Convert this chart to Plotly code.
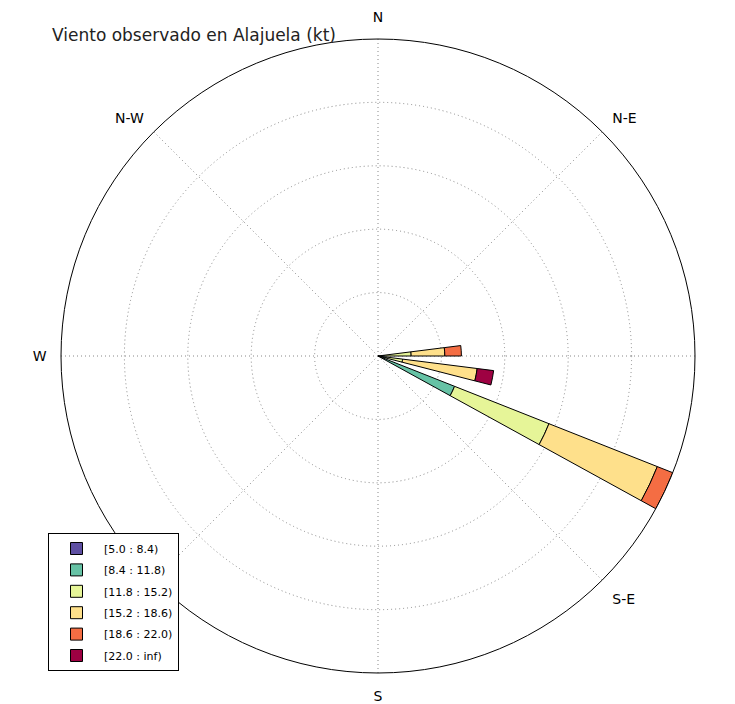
import plotly.graph_objects as go

# Directions (degrees, compass) of the sectors with data
directions = [86.4, 100.8, 115.2]
sector_width = 7.2

# Speed bins (kt) and their frequencies (%) per direction
bin_labels = ["[5.0 : 8.4)", "[8.4 : 11.8)", "[11.8 : 15.2)",
              "[15.2 : 18.6)", "[18.6 : 22.0)", "[22.0 : inf)"]
bin_colors = ["#5e4fa2", "#66c2a5", "#e6f598", "#fee08b", "#f46d43", "#9e0142"]

freq_5_8 = [0.0, 0.0, 0.0]
freq_8_11 = [1.2, 1.6, 15.9]
freq_11_15 = [5.2, 3.2, 19.6]
freq_15_18 = [6.5, 14.5, 22.5]
freq_18_22 = [3.2, 0.0, 3.2]
freq_22_inf = [0.0, 3.2, 0.0]
series = [freq_5_8, freq_8_11, freq_11_15, freq_15_18, freq_18_22, freq_22_inf]

# Compass labels (E falls outside the picture, S-W is hidden by the legend)
compass_vals = [0, 45, 90, 135, 180, 225, 270, 315]
compass_text = ["N", "N-E", "", "S-E", "S", "", "W", "N-W"]

title_text = "Viento observado en Alajuela (kt)"

totals = [sum(s[i] for s in series) for i in range(len(directions))]
rmax = max(totals)

fig = go.Figure()
for i, (lab, col, vals) in enumerate(zip(bin_labels, bin_colors, series)):
    fig.add_trace(go.Barpolar(
        r=vals, theta=directions, width=[sector_width] * len(directions),
        name=lab, legendgroup=f"g{i}",
        marker=dict(color=col, line=dict(color="black", width=1)),
    ))

OFF = 8  # page body margin
W, H = 727, 696
cx, cy, R = 378 - OFF, 356 - OFF, 317


def px(x):
    return x / W


def py(y):
    return 1 - y / H


fig.update_layout(
    width=W, height=H,
    margin=dict(l=0, r=0, t=0, b=0),
    paper_bgcolor="white",
    font=dict(family="DejaVu Sans", color="black"),
    title=dict(text=title_text, x=px(52 - OFF), xanchor="left", xref="paper",
               y=py(35 - OFF), yanchor="middle", yref="paper",
               font=dict(size=17, color="#222", family="DejaVu Sans")),
    polar=dict(
        domain=dict(x=[px(cx - R), px(cx + R)],
                    y=[py(cy + R), py(cy - R)]),
        bgcolor="white",
        barmode="stack",
        radialaxis=dict(range=[0, rmax], dtick=rmax / 5, showticklabels=False,
                        ticks="", showline=False, gridcolor="#888",
                        griddash="1px,3px", gridwidth=1),
        angularaxis=dict(rotation=90, direction="clockwise",
                         tickmode="array", tickvals=compass_vals,
                         ticktext=compass_text, ticks="outside", ticklen=11,
                         tickcolor="rgba(0,0,0,0)",
                         showline=True, linecolor="black", linewidth=1,
                         gridcolor="#888", griddash="1px,3px", gridwidth=1,
                         tickfont=dict(size=14, family="DejaVu Sans")),
    ),
    legend=dict(x=px(48 - OFF), y=py(533 - OFF), xanchor="left", yanchor="top",
                bgcolor="white", bordercolor="black", borderwidth=1,
                traceorder="grouped", tracegroupgap=2.4, itemwidth=45,
                font=dict(size=11, family="DejaVu Sans")),
    showlegend=True,
)

fig.write_html("out.html")
